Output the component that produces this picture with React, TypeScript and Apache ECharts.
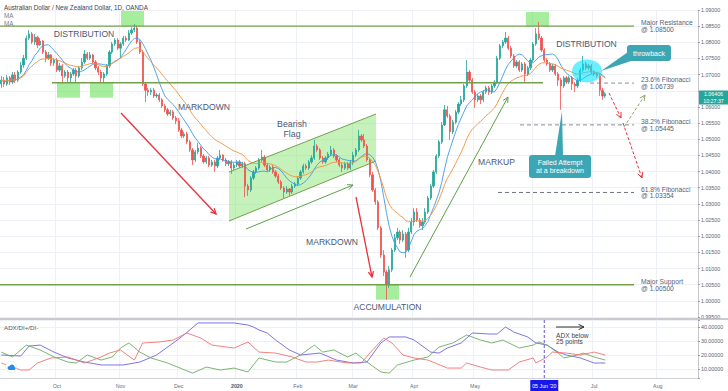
import React, { useEffect, useRef } from 'react';
import * as echarts from 'echarts';

// ---- candles: [open, close, low, high] ----
const sep19 = [
  [1.0671,1.0683,1.0659,1.0696],[1.0683,1.0671,1.0662,1.0693],[1.0671,1.0690,1.0665,1.0699],[1.0690,1.0677,1.0668,1.0696],
  [1.0677,1.0699,1.0671,1.0708],[1.0699,1.0683,1.0674,1.0708],[1.0683,1.0708,1.0677,1.0714],[1.0708,1.0730,1.0702,1.0739],
  [1.0730,1.0751,1.0721,1.0761],[1.0751,1.0813,1.0745,1.0820],[1.0813,1.0826,1.0807,1.0838],[1.0826,1.0801,1.0795,1.0832],
  [1.0801,1.0816,1.0792,1.0826],[1.0816,1.0792,1.0782,1.0820],[1.0792,1.0804,1.0789,1.0813],[1.0804,1.0770,1.0764,1.0807],
  [1.0770,1.0751,1.0739,1.0776],[1.0751,1.0761,1.0745,1.0770],[1.0761,1.0736,1.0727,1.0764],[1.0736,1.0745,1.0727,1.0751],
];
const oct19 = [
  [1.0745,1.0714,1.0708,1.0751],[1.0714,1.0727,1.0708,1.0736],[1.0727,1.0696,1.0677,1.0733],[1.0696,1.0708,1.0690,1.0714],
  [1.0708,1.0690,1.0674,1.0714],[1.0690,1.0702,1.0677,1.0708],[1.0702,1.0714,1.0696,1.0721],[1.0714,1.0696,1.0677,1.0721],
  [1.0696,1.0721,1.0690,1.0727],[1.0721,1.0739,1.0714,1.0751],[1.0739,1.0764,1.0733,1.0776],[1.0764,1.0751,1.0745,1.0770],
  [1.0751,1.0761,1.0745,1.0770],[1.0761,1.0739,1.0733,1.0764],[1.0739,1.0721,1.0714,1.0745],[1.0721,1.0708,1.0699,1.0727],
  [1.0708,1.0690,1.0674,1.0714],[1.0690,1.0702,1.0677,1.0708],[1.0702,1.0727,1.0696,1.0733],[1.0727,1.0770,1.0721,1.0776],
  [1.0770,1.0795,1.0764,1.0801],[1.0795,1.0807,1.0789,1.0813],[1.0807,1.0782,1.0776,1.0813],
];
const nov19 = [
  [1.0782,1.0795,1.0751,1.0801],[1.0795,1.0813,1.0789,1.0820],[1.0813,1.0807,1.0801,1.0820],[1.0807,1.0829,1.0804,1.0838],
  [1.0829,1.0838,1.0823,1.0847],[1.0838,1.0844,1.0832,1.0857],[1.0844,1.0801,1.0795,1.0851],[1.0801,1.0770,1.0764,1.0807],
  [1.0770,1.0671,1.0665,1.0776],[1.0671,1.0652,1.0615,1.0677],[1.0652,1.0646,1.0634,1.0659],[1.0646,1.0652,1.0637,1.0659],
  [1.0652,1.0634,1.0628,1.0659],[1.0634,1.0637,1.0628,1.0643],[1.0637,1.0622,1.0615,1.0643],[1.0622,1.0603,1.0597,1.0628],
  [1.0603,1.0591,1.0584,1.0609],[1.0591,1.0578,1.0572,1.0597],[1.0578,1.0584,1.0572,1.0591],[1.0584,1.0566,1.0560,1.0591],
  [1.0566,1.0557,1.0547,1.0572],
];
const dec19 = [
  [1.0557,1.0529,1.0523,1.0566],[1.0529,1.0510,1.0504,1.0535],[1.0510,1.0516,1.0504,1.0523],[1.0516,1.0492,1.0485,1.0523],
  [1.0492,1.0467,1.0461,1.0498],[1.0467,1.0436,1.0420,1.0473],[1.0436,1.0461,1.0430,1.0467],[1.0461,1.0473,1.0454,1.0489],
  [1.0473,1.0448,1.0442,1.0479],[1.0448,1.0430,1.0424,1.0454],[1.0430,1.0442,1.0424,1.0448],[1.0442,1.0420,1.0414,1.0448],
  [1.0420,1.0430,1.0414,1.0436],[1.0430,1.0417,1.0399,1.0436],[1.0417,1.0442,1.0411,1.0448],[1.0442,1.0451,1.0436,1.0467],
  [1.0451,1.0436,1.0430,1.0454],[1.0436,1.0424,1.0417,1.0442],[1.0424,1.0430,1.0417,1.0436],[1.0430,1.0411,1.0393,1.0436],
  [1.0411,1.0420,1.0405,1.0427],
];
const jan20 = [
  [1.0420,1.0430,1.0414,1.0436],[1.0430,1.0417,1.0411,1.0436],[1.0417,1.0424,1.0411,1.0430],[1.0424,1.0355,1.0321,1.0430],
  [1.0355,1.0343,1.0325,1.0362],[1.0343,1.0380,1.0337,1.0386],[1.0380,1.0399,1.0374,1.0405],[1.0399,1.0411,1.0393,1.0417],
  [1.0411,1.0436,1.0405,1.0442],[1.0436,1.0445,1.0430,1.0467],[1.0445,1.0420,1.0414,1.0451],[1.0420,1.0405,1.0399,1.0427],
  [1.0405,1.0414,1.0399,1.0420],[1.0414,1.0399,1.0393,1.0420],[1.0399,1.0386,1.0380,1.0405],[1.0386,1.0368,1.0362,1.0393],
  [1.0368,1.0349,1.0343,1.0374],[1.0349,1.0337,1.0318,1.0355],[1.0337,1.0346,1.0331,1.0355],[1.0346,1.0337,1.0325,1.0349],
  [1.0337,1.0355,1.0331,1.0362],[1.0355,1.0362,1.0349,1.0368],
];
const feb20 = [
  [1.0362,1.0380,1.0355,1.0386],[1.0380,1.0399,1.0374,1.0405],[1.0399,1.0417,1.0393,1.0424],[1.0417,1.0411,1.0405,1.0424],
  [1.0411,1.0430,1.0405,1.0436],[1.0430,1.0442,1.0424,1.0451],[1.0442,1.0479,1.0436,1.0498],[1.0479,1.0467,1.0461,1.0485],
  [1.0467,1.0442,1.0436,1.0473],[1.0442,1.0430,1.0424,1.0448],[1.0430,1.0442,1.0424,1.0448],[1.0442,1.0454,1.0436,1.0461],
  [1.0454,1.0467,1.0448,1.0479],[1.0467,1.0448,1.0442,1.0473],[1.0448,1.0436,1.0430,1.0454],[1.0436,1.0420,1.0414,1.0442],
  [1.0420,1.0411,1.0399,1.0427],[1.0411,1.0424,1.0405,1.0430],[1.0424,1.0411,1.0405,1.0430],[1.0411,1.0427,1.0405,1.0436],
];
const mar20 = [
  [1.0427,1.0451,1.0420,1.0461],[1.0451,1.0467,1.0445,1.0473],[1.0467,1.0510,1.0461,1.0529],[1.0510,1.0498,1.0492,1.0516],
  [1.0498,1.0479,1.0473,1.0516],[1.0479,1.0436,1.0430,1.0485],[1.0436,1.0390,1.0383,1.0442],[1.0390,1.0343,1.0337,1.0399],
  [1.0343,1.0306,1.0297,1.0349],[1.0306,1.0226,1.0219,1.0312],[1.0226,1.0142,1.0133,1.0232],[1.0142,1.0089,1.0077,1.0157],
  [1.0089,1.0052,1.0003,1.0096],[1.0052,1.0096,1.0040,1.0108],[1.0096,1.0157,1.0089,1.0164],[1.0157,1.0195,1.0151,1.0207],
  [1.0195,1.0213,1.0188,1.0226],[1.0213,1.0188,1.0176,1.0219],[1.0188,1.0207,1.0182,1.0219],[1.0207,1.0157,1.0133,1.0213],
  [1.0157,1.0213,1.0151,1.0226],[1.0213,1.0244,1.0207,1.0256],
];
const apr20 = [
  [1.0244,1.0275,1.0232,1.0287],[1.0275,1.0250,1.0244,1.0287],[1.0250,1.0232,1.0226,1.0256],[1.0232,1.0244,1.0219,1.0256],
  [1.0244,1.0275,1.0238,1.0287],[1.0275,1.0318,1.0269,1.0325],[1.0318,1.0355,1.0312,1.0362],[1.0355,1.0399,1.0349,1.0405],
  [1.0399,1.0448,1.0393,1.0454],[1.0448,1.0492,1.0442,1.0498],[1.0492,1.0544,1.0485,1.0553],[1.0544,1.0591,1.0541,1.0606],
  [1.0591,1.0572,1.0566,1.0603],[1.0572,1.0523,1.0498,1.0578],[1.0523,1.0553,1.0516,1.0560],[1.0553,1.0584,1.0547,1.0591],
  [1.0584,1.0609,1.0578,1.0615],[1.0609,1.0622,1.0603,1.0634],[1.0622,1.0665,1.0615,1.0671],[1.0665,1.0708,1.0659,1.0745],
  [1.0708,1.0683,1.0677,1.0714],[1.0683,1.0646,1.0640,1.0690],
];
const may20 = [
  [1.0646,1.0622,1.0597,1.0652],[1.0622,1.0634,1.0615,1.0640],[1.0634,1.0622,1.0609,1.0640],[1.0622,1.0646,1.0615,1.0652],
  [1.0646,1.0659,1.0640,1.0665],[1.0659,1.0646,1.0637,1.0665],[1.0646,1.0665,1.0640,1.0671],[1.0665,1.0677,1.0659,1.0683],
  [1.0677,1.0751,1.0671,1.0758],[1.0751,1.0789,1.0745,1.0795],[1.0789,1.0801,1.0782,1.0807],[1.0801,1.0813,1.0795,1.0832],
  [1.0813,1.0782,1.0776,1.0820],[1.0782,1.0758,1.0751,1.0789],[1.0758,1.0727,1.0721,1.0764],[1.0727,1.0739,1.0721,1.0745],
  [1.0739,1.0714,1.0708,1.0745],[1.0714,1.0733,1.0708,1.0739],[1.0733,1.0702,1.0677,1.0739],[1.0702,1.0721,1.0696,1.0727],
  [1.0721,1.0745,1.0714,1.0751],
];
const jun20 = [
  [1.0745,1.0795,1.0739,1.0801],[1.0795,1.0826,1.0789,1.0844],[1.0826,1.0813,1.0807,1.0863],[1.0813,1.0776,1.0770,1.0820],
  [1.0776,1.0745,1.0739,1.0782],[1.0745,1.0733,1.0727,1.0751],[1.0733,1.0714,1.0708,1.0739],[1.0714,1.0727,1.0708,1.0733],
  [1.0727,1.0702,1.0696,1.0733],[1.0702,1.0683,1.0665,1.0708],[1.0683,1.0665,1.0591,1.0690],[1.0665,1.0690,1.0659,1.0696],
  [1.0690,1.0677,1.0671,1.0696],[1.0677,1.0690,1.0671,1.0696],[1.0690,1.0671,1.0652,1.0696],[1.0671,1.0665,1.0646,1.0677],
  [1.0665,1.0683,1.0659,1.0690],[1.0683,1.0714,1.0677,1.0721],[1.0714,1.0733,1.0708,1.0758],[1.0733,1.0721,1.0714,1.0739],
  [1.0721,1.0727,1.0714,1.0733],[1.0727,1.0708,1.0702,1.0733],
];
const jul20 = [
  [1.0708,1.0702,1.0696,1.0714],[1.0702,1.0696,1.0690,1.0708],[1.0696,1.0652,1.0634,1.0702],[1.0652,1.0634,1.0622,1.0659],
  [1.0634,1.06406,1.0628,1.0646],
];

// ---- ADX / DI+ / DI- : [barIndex, value] ----
const adxLine = [[0,20],[7,19.3],[10,26.4],[14,27.1],[19,22.1],[24,17.9],[30,15],[36,12.9],[44,12.9],[50,15],[56,20],[61,27.1],[65,32.9],[68,37.9],[71,42.9],[84,42.9],[89,41.4],[91,40],[93,37.9],[96,35.7],[99,30.7],[104,23.6],[108,20],[115,21.4],[121,16.4],[127,14.3],[132,15],[137,28.6],[140,32.9],[146,32.9],[149,30.7],[155,22.1],[158,21.4],[161,25],[166,28.6],[170,35.7],[176,35],[179,35],[182,40],[185,36.4],[190,32.9],[193,28.6],[197,27.1],[201,22.1],[204,20],[209,17.9],[214,14.3],[218,14.3]];
const diPlus = [[0,22.1],[4,18.6],[9,27.1],[14,23.6],[19,18.6],[24,15],[27,14.3],[31,20],[36,16.4],[40,18.6],[43,25],[46,28.6],[50,22.1],[54,17.9],[60,14.3],[69,7.1],[74,11.4],[79,9.3],[84,10.7],[89,7.9],[93,17.9],[99,15],[103,15],[108,20],[113,27.1],[116,22.1],[120,23.6],[125,18.6],[128,21.4],[132,15],[137,7.9],[140,7.1],[143,12.9],[149,16.4],[154,18.6],[158,25.7],[163,28.6],[168,34.3],[173,30.7],[177,28.6],[181,30.7],[187,25],[192,27.1],[194,29.3],[197,27.1],[201,21.4],[203,17.9],[208,20],[210,21.4],[214,18.6],[218,16.4]];
const diMinus = [[0,14.3],[7,9.3],[10,9.3],[13,14.3],[18,17.9],[24,18.6],[30,14.3],[36,18.6],[39,21.4],[43,23.6],[48,16.4],[51,28.6],[57,29.3],[62,30.7],[67,35.7],[72,32.1],[76,27.1],[84,25],[89,29.3],[93,22.1],[99,21.4],[105,18.6],[110,15],[114,15],[118,16.4],[125,14.3],[130,14.3],[133,21.4],[138,32.1],[141,28.6],[145,20],[149,17.9],[154,16.4],[161,10.7],[166,10.7],[168,14.3],[173,11.4],[177,9.3],[183,9.3],[187,15],[192,17.9],[193,14.3],[197,18.6],[199,22.1],[204,21.4],[209,20],[214,22.1],[218,20]];

// ---- levels ----
const resistanceLevel = 1.085;
const necklineLevel = 1.0675;
const fib236 = 1.06739;
const fib382 = 1.05445;
const fib618 = 1.03354;
const supportLevel = 1.005;
const lastPrice = 1.06406;
const lastTime = '10:27:37';
const markedDate = '2020-06-05';
const hiddenPriceLabel = 1.065; // covered by the last-price tag

// ---- trading-day categories ----
const firstDay = '2019-09-03';
const lastDay = '2020-08-21';
const closedDays = ['2019-12-25', '2020-01-01'];
const monthNames = ['Jan','Feb','Mar','Apr','May','Jun','Jul','Aug','Sep','Oct','Nov','Dec'];

function buildDates(): string[] {
  const out: string[] = [];
  const [y0, m0, d0] = firstDay.split('-').map(Number);
  let t = Date.UTC(y0, m0 - 1, d0);
  const [y1, m1, d1] = lastDay.split('-').map(Number);
  const tEnd = Date.UTC(y1, m1 - 1, d1);
  while (t <= tEnd) {
    const d = new Date(t);
    const wd = d.getUTCDay();
    const s = d.toISOString().slice(0, 10);
    if (wd !== 0 && wd !== 6 && closedDays.indexOf(s) < 0) out.push(s);
    t += 86400000;
  }
  return out;
}

const candles = [...sep19, ...oct19, ...nov19, ...dec19, ...jan20, ...feb20, ...mar20, ...apr20, ...may20, ...jun20, ...jul20];
const dates = buildDates();
const closes = candles.map((c) => c[1]);

function sma(vals: number[], n: number) {
  return vals.map((_, i) => {
    const s = Math.max(0, i - n + 1);
    let sum = 0;
    for (let k = s; k <= i; k++) sum += vals[k];
    return +(sum / (i - s + 1)).toFixed(5);
  });
}
function ema(vals: number[], n: number) {
  const a = 2 / (n + 1);
  let e = vals[0];
  return vals.map((v, i) => {
    if (i > 0) e = e + a * (v - e);
    return +e.toFixed(5);
  });
}

const FONT = '"Liberation Sans", Arial, sans-serif';
const isMonthStart = (i: number) => i > 0 && dates[i].slice(0, 7) !== dates[i - 1].slice(0, 7);
const showMonthLabel = (i: number) => isMonthStart(i) && dates[i].slice(5, 7) !== '06';

function buildOption() {
  const gridLine = '#edf0f4';
  return {
    animation: false,
    backgroundColor: '#ffffff',
    grid: [
      { left: 0, right: 30, top: 10, height: 307 },
      { left: 0, right: 30, top: 320, height: 58 },
    ],
    xAxis: [
      {
        type: 'category', gridIndex: 0, data: dates, boundaryGap: true,
        axisLine: { show: false }, axisTick: { show: false }, axisLabel: { show: false },
        splitLine: { show: true, interval: (i: number) => isMonthStart(i), lineStyle: { color: gridLine, width: 1 } },
      },
      {
        type: 'category', gridIndex: 1, data: dates, boundaryGap: true,
        axisLine: { show: true, lineStyle: { color: '#cfd2d9', width: 1 } }, axisTick: { show: false },
        axisLabel: {
          show: true, interval: (i: number) => showMonthLabel(i), margin: 5, fontSize: 5.3, color: '#6a6d78', fontFamily: FONT,
          formatter: (v: string) => {
            const m = +v.slice(5, 7);
            return m === 1 ? '{y|' + v.slice(0, 4) + '}' : monthNames[m - 1];
          },
          rich: { y: { fontWeight: 'bold', fontSize: 5.3, color: '#555', fontFamily: FONT } },
        },
        splitLine: { show: true, interval: (i: number) => isMonthStart(i), lineStyle: { color: gridLine, width: 1 } },
      },
    ],
    yAxis: [
      {
        type: 'value', gridIndex: 0, position: 'right', min: 0.995, max: 1.09, interval: 0.005,
        axisLine: { show: true, lineStyle: { color: '#c4c7ce' } },
        axisTick: { show: true, length: 2, lineStyle: { color: '#9a9da5' } },
        axisLabel: {
          fontSize: 5.3, color: '#5d606b', margin: 3, fontFamily: FONT,
          formatter: (v: number) => (Math.abs(v - hiddenPriceLabel) < 1e-7 ? '' : v.toFixed(5)),
        },
        splitLine: { show: true, lineStyle: { color: gridLine } },
      },
      {
        type: 'value', gridIndex: 1, position: 'right', min: 3.6, max: 45, splitNumber: 4,
        axisLine: { show: true, lineStyle: { color: '#c4c7ce' } },
        axisTick: { show: true, length: 2, lineStyle: { color: '#9a9da5' } },
        axisLabel: {
          fontSize: 5.3, color: '#5d606b', margin: 3, fontFamily: FONT, showMinLabel: true, showMaxLabel: true,
          formatter: (v: number) => {
            const r = Math.round(v);
            return Math.abs(v - r) < 1e-6 && r % 10 === 0 && r >= 10 && r <= 40 ? v.toFixed(5) : '';
          },
        },
        splitLine: { show: true, lineStyle: { color: gridLine } },
      },
    ],
    series: [
      {
        name: 'AUDNZD', type: 'candlestick', xAxisIndex: 0, yAxisIndex: 0, data: candles, barWidth: '62%',
        itemStyle: { color: '#26a69a', color0: '#ef5350', borderColor: '#26a69a', borderColor0: '#ef5350', borderWidth: 0.8 },
      },
      {
        name: 'MA fast', type: 'line', xAxisIndex: 0, yAxisIndex: 0, data: sma(closes, 9), showSymbol: false, symbol: 'none',
        lineStyle: { color: '#3d9be9', width: 0.9 }, z: 3,
      },
      {
        name: 'MA slow', type: 'line', xAxisIndex: 0, yAxisIndex: 0, data: ema(closes, 20), showSymbol: false, symbol: 'none',
        lineStyle: { color: '#f5913e', width: 0.9 }, z: 3,
      },
      {
        name: 'ADX', type: 'line', xAxisIndex: 1, yAxisIndex: 1, data: adxLine, showSymbol: false, symbol: 'none',
        lineStyle: { color: '#7064e0', width: 0.9 },
      },
      {
        name: 'DI+', type: 'line', xAxisIndex: 1, yAxisIndex: 1, data: diPlus, showSymbol: false, symbol: 'none',
        lineStyle: { color: '#6cad62', width: 0.9 },
      },
      {
        name: 'DI-', type: 'line', xAxisIndex: 1, yAxisIndex: 1, data: diMinus, showSymbol: false, symbol: 'none',
        lineStyle: { color: '#ee7474', width: 0.9 },
      },
    ],
  };
}

function txt(x: number, y: number, text: string, size: number, fill: string, align = 'left', weight = 'normal') {
  return {
    type: 'text', x, y, z: 30, silent: true,
    style: { text, fill, fontSize: size, fontFamily: FONT, fontWeight: weight, align, verticalAlign: 'middle' },
  };
}
function seg(x1: number, y1: number, x2: number, y2: number, stroke: string, w: number, dash?: number[], z = 25) {
  return { type: 'line', z, silent: true, shape: { x1, y1, x2, y2 }, style: { stroke, lineWidth: w, lineDash: dash || null } };
}
function arrow(x1: number, y1: number, x2: number, y2: number, stroke: string, w: number, dash?: number[]) {
  const a = Math.atan2(y2 - y1, x2 - x1);
  const L = 6, ang = 0.45;
  const head = [
    [x2 - L * Math.cos(a - ang), y2 - L * Math.sin(a - ang)],
    [x2, y2],
    [x2 - L * Math.cos(a + ang), y2 - L * Math.sin(a + ang)],
  ];
  return [
    seg(x1, y1, x2, y2, stroke, w, dash),
    { type: 'polyline', z: 25, silent: true, shape: { points: head }, style: { stroke, lineWidth: w, fill: null } },
  ];
}
function box(x: number, y: number, w: number, h: number, fill: string, z = 1, r = 0) {
  return { type: 'rect', z, silent: true, shape: { x, y, width: w, height: h, r }, style: { fill } };
}

function buildGraphics(chart: any) {
  const yOf = (p: number) => chart.convertToPixel({ yAxisIndex: 0 }, p) as number;
  const xJ = chart.convertToPixel({ xAxisIndex: 1 }, markedDate) as number;
  const green = '#73a04c';
  const boxFill = 'rgba(112, 226, 98, 0.62)';
  const label = '#54627a';
  const phase = '#4b5a73';
  const red = '#e8323c';
  const arrowGreen = '#5d9f49';
  const callout = '#3ca6b4';
  const dashGray = '#8a8e97';

  const yR = yOf(resistanceLevel), yN = yOf(necklineLevel), yS = yOf(supportLevel);
  const y236 = yOf(fib236), y382 = yOf(fib382), y618 = yOf(fib618);

  const g: any[] = [];
  // fills under candles
  g.push(box(121, 11, 23, yR - 11, boxFill));
  g.push(box(57, yN, 23, 15, boxFill));
  g.push(box(90, yN, 23, 15, boxFill));
  g.push(box(526, 12, 23, yR - 12, boxFill));
  g.push(box(376, yS, 23, 15, boxFill));
  g.push({ type: 'polygon', z: 1, silent: true, shape: { points: [[229, 172], [376, 114], [376, 161], [229, 221]] }, style: { fill: 'rgba(140, 228, 118, 0.5)' } });
  g.push(seg(229, 172, 376, 114, green, 1));
  g.push(seg(229, 221, 376, 161, green, 1));

  // horizontal levels
  g.push(seg(0, yR, 634, yR, green, 1.4));
  g.push(seg(52, yN, 543, yN, green, 1.4));
  g.push(seg(0, yS, 634, yS, green, 1.4));
  g.push(seg(590, y236, 634, y236, dashGray, 1, [4, 3]));
  g.push(seg(520, y382, 634, y382, dashGray, 1, [4, 3]));
  g.push(seg(498, y618, 634, y618, '#6e727b', 1, [4, 3]));

  // level texts
  const lv = (y: number, a: string, b: string) => {
    g.push(txt(641, y - 3.4, a, 6.7, label));
    g.push(txt(641, y + 3.4, b, 6.7, label));
  };
  lv(yR, 'Major Resistance', '@ 1.08500');
  lv(y236, '23.6% Fibonacci', '@ 1.06739');
  lv(y382, '38.2% Fibonacci', '@ 1.05445');
  lv(y618, '61.8% Fibonacci', '@ 1.03354');
  lv(yS, 'Major Support', '@ 1.00500');

  // phase labels
  g.push(txt(84, 34, 'DISTRIBUTION', 8.6, phase, 'center'));
  g.push(txt(586.5, 44, 'DISTRIBUTION', 8.6, phase, 'center'));
  g.push(txt(204, 107, 'MARKDOWN', 8.6, phase, 'center'));
  g.push(txt(292, 124, 'Bearish', 8.8, phase, 'center'));
  g.push(txt(292, 133.5, 'Flag', 8.8, phase, 'center'));
  g.push(txt(332, 242, 'MARKDOWN', 8.6, phase, 'center'));
  g.push(txt(387.5, 307, 'ACCUMULATION', 8.6, phase, 'center'));
  g.push(txt(496.5, 162, 'MARKUP', 8.6, phase, 'center'));

  // arrows
  g.push(...arrow(121, 113, 216, 214, red, 1.3));
  g.push(...arrow(356, 197, 372, 277, red, 1.3));
  g.push(...arrow(246, 229, 353, 185, arrowGreen, 1));
  g.push(...arrow(410, 277, 508, 97, arrowGreen, 1));
  g.push(...arrow(609, 93, 621, 118, red, 1, [3, 2]));
  g.push(...arrow(623, 123, 642, 178, red, 1, [3, 2]));
  g.push(...arrow(624, 127, 645, 95, '#8fa86f', 1, [3, 2]));

  // throwback highlight + callouts
  g.push({ type: 'ellipse', z: 20, silent: true, shape: { cx: 587, cy: 71, rx: 15, ry: 11.5 }, style: { fill: 'rgba(0, 226, 255, 0.58)' } });
  g.push({ type: 'polygon', z: 28, silent: true, shape: { points: [[628, 52], [634, 60], [601, 71]] }, style: { fill: callout } });
  g.push(box(627, 45, 44, 16, callout, 28, 3));
  g.push(txt(649, 53, 'throwback', 7, '#ffffff', 'center'));
  g.push({ type: 'polygon', z: 28, silent: true, shape: { points: [[555, 156], [563, 156], [562, 111]] }, style: { fill: callout } });
  g.push(box(529, 155, 62, 23, callout, 28, 3));
  g.push(txt(560, 162.5, 'Failed Attempt', 7, '#ffffff', 'center'));
  g.push(txt(560, 170.5, 'at a breakdown', 7, '#ffffff', 'center'));

  // header texts
  g.push(txt(4, 7, 'Australian Dollar / New Zealand Dollar, 1D, OANDA', 6.3, '#3f434d'));
  g.push(txt(4, 15, 'MA', 6.3, '#7b7e89'));
  g.push(txt(4, 23, 'MA', 6.3, '#7b7e89'));

  // last price tag
  g.push(box(699, 90.5, 29, 14, '#26a69a', 30));
  g.push(txt(713.5, 94, lastPrice.toFixed(5), 5.3, '#ffffff', 'center'));
  g.push(txt(713.5, 100.8, lastTime, 5.3, '#ffffff', 'center'));

  // pane separator
  g.push(seg(0, 319, 728, 319, '#b6b9c0', 1.5, undefined, 30));

  // ADX pane annotations
  g.push(txt(4, 327.5, 'ADX/DI+/DI-', 6.2, '#555a66'));
  g.push(seg(xJ, 320, xJ, 379, '#6a55d2', 1, [3, 2]));
  g.push(...arrow(556, 327, 584, 327, '#2b2e36', 1));
  g.push(txt(556, 335, 'ADX below', 6.6, '#3d4452'));
  g.push(txt(556, 341.5, '25 points', 6.6, '#3d4452'));
  g.push(box(xJ - 14, 380, 28, 11, '#1717ec', 30));
  g.push(txt(xJ, 385.5, "05 Jun '20", 5.3, '#ffffff', 'center'));

  // small cloud badge
  g.push({ type: 'circle', z: 30, silent: true, shape: { cx: 11, cy: 367, r: 5.5 }, style: { fill: '#ffffff', stroke: '#d5e6f7', lineWidth: 0.6 } });
  g.push({ type: 'circle', z: 31, silent: true, shape: { cx: 9.5, cy: 368, r: 2 }, style: { fill: '#2a8de0' } });
  g.push({ type: 'circle', z: 31, silent: true, shape: { cx: 12, cy: 366.8, r: 2.4 }, style: { fill: '#2a8de0' } });
  g.push({ type: 'circle', z: 31, silent: true, shape: { cx: 14, cy: 368.4, r: 1.6 }, style: { fill: '#2a8de0' } });
  g.push(box(9, 368.4, 5.5, 1.6, '#2a8de0', 31));

  return g;
}

export default function App() {
  const ref = useRef<HTMLDivElement>(null);
  useEffect(() => {
    const el = ref.current;
    if (!el) return;
    const chart = echarts.init(el, null, { renderer: 'svg' });
    chart.setOption(buildOption() as any);
    chart.setOption({ graphic: buildGraphics(chart) } as any);
    return () => chart.dispose();
  }, []);
  return <div ref={ref} style={{ position: 'fixed', left: 0, top: 0, width: 728, height: 391, background: '#ffffff' }} />;
}
